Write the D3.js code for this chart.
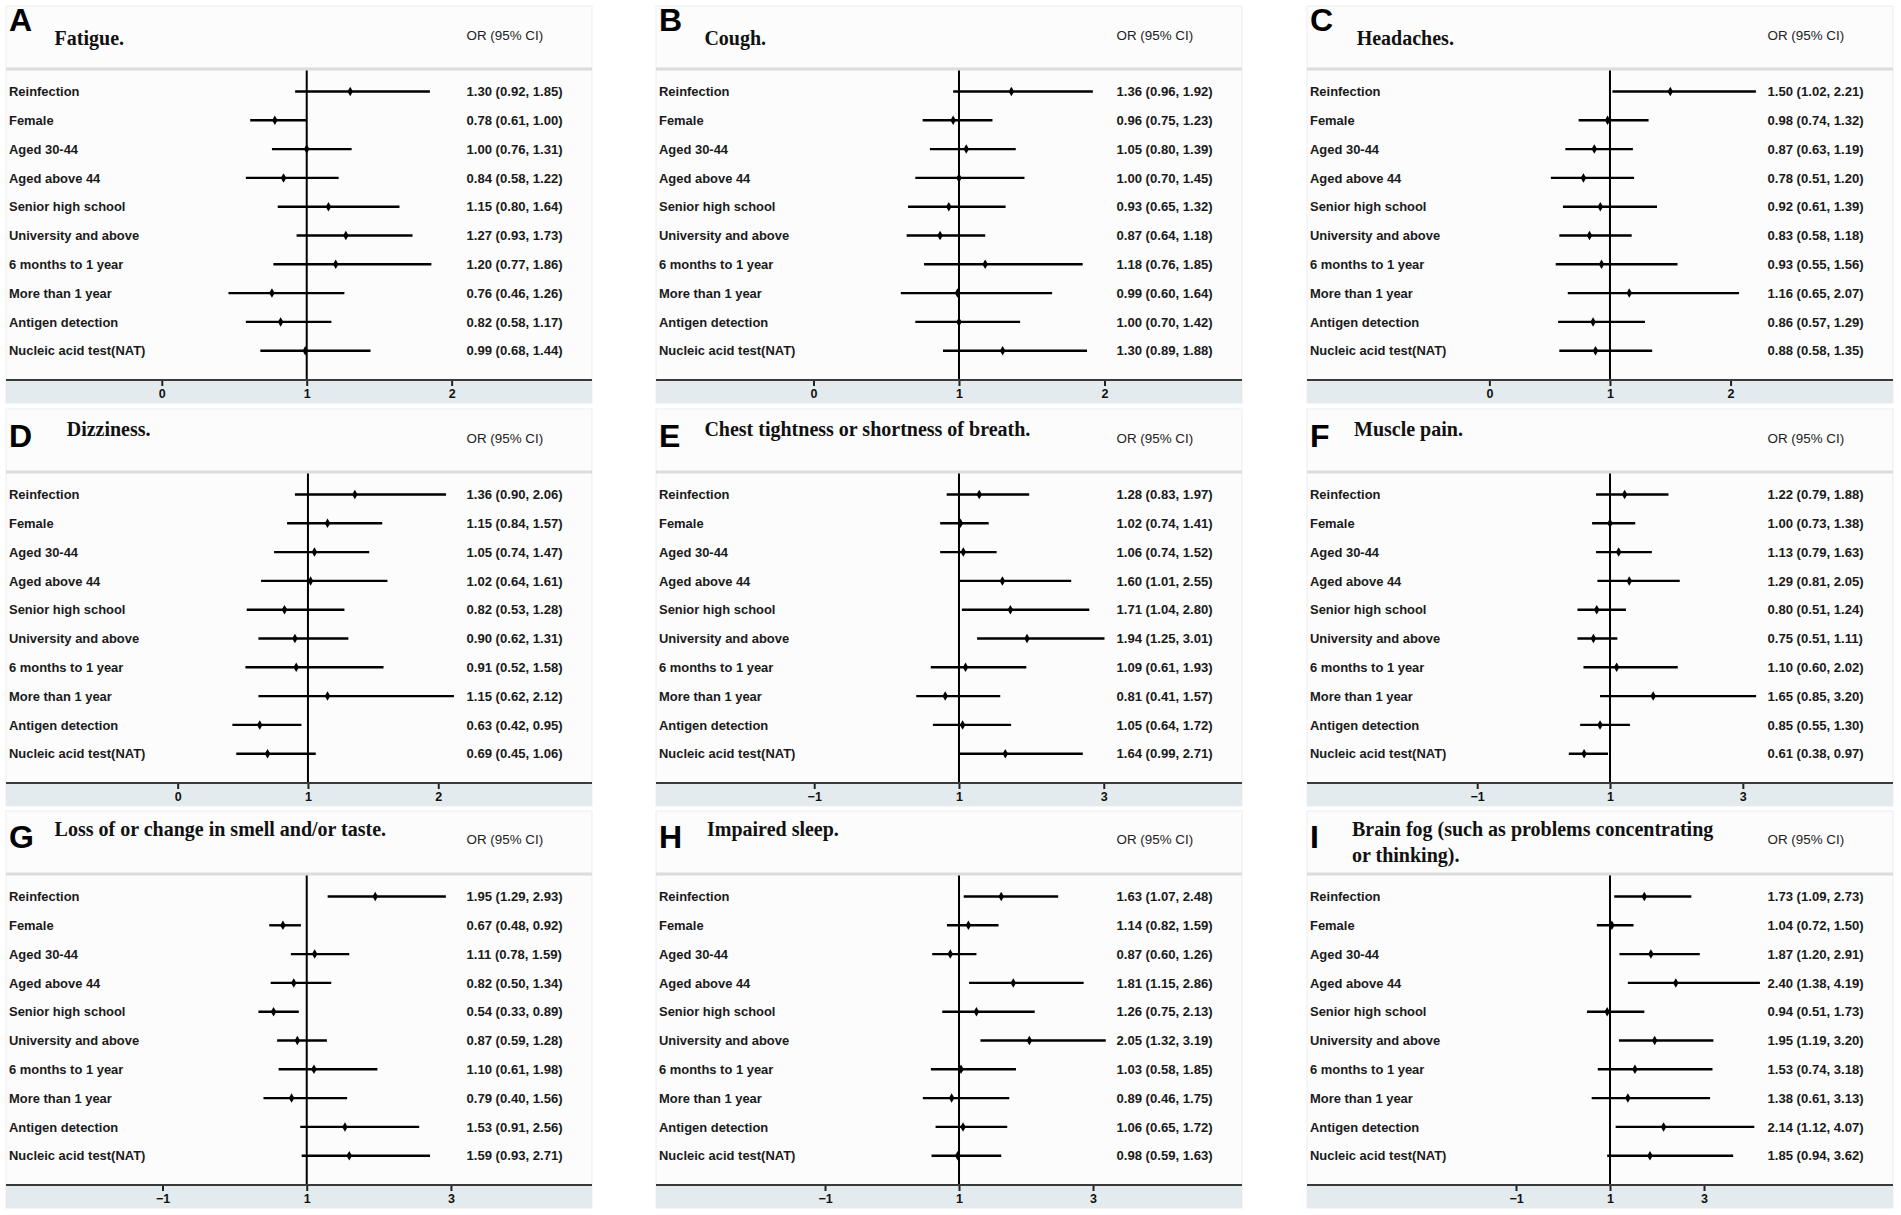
<!DOCTYPE html>
<html><head><meta charset="utf-8">
<script src="https://cdn.jsdelivr.net/npm/d3@7"></script>
<style>body{margin:0;background:#fff}</style>
</head><body><svg id="c" width="1901" height="1215"></svg>
<script>
// ---------------- DATA ----------------
const categories = ["Reinfection","Female","Aged 30-44","Aged above 44","Senior high school",
  "University and above","6 months to 1 year","More than 1 year","Antigen detection","Nucleic acid test(NAT)"];
const panelLetters = ["A","B","C","D","E","F","G","H","I"];
const panelTitles = [["Fatigue."],["Cough."],["Headaches."],["Dizziness."],
  ["Chest tightness or shortness of breath."],["Muscle pain."],
  ["Loss of or change in smell and/or taste."],["Impaired sleep."],
  ["Brain fog (such as problems concentrating","or thinking)."]];
const headerLabel = "OR (95% CI)";

const orFatigue  = [1.30,0.78,1.00,0.84,1.15,1.27,1.20,0.76,0.82,0.99];
const lowFatigue = [0.92,0.61,0.76,0.58,0.80,0.93,0.77,0.46,0.58,0.68];
const highFatigue= [1.85,1.00,1.31,1.22,1.64,1.73,1.86,1.26,1.17,1.44];

const orCough  = [1.36,0.96,1.05,1.00,0.93,0.87,1.18,0.99,1.00,1.30];
const lowCough = [0.96,0.75,0.80,0.70,0.65,0.64,0.76,0.60,0.70,0.89];
const highCough= [1.92,1.23,1.39,1.45,1.32,1.18,1.85,1.64,1.42,1.88];

const orHeadache  = [1.50,0.98,0.87,0.78,0.92,0.83,0.93,1.16,0.86,0.88];
const lowHeadache = [1.02,0.74,0.63,0.51,0.61,0.58,0.55,0.65,0.57,0.58];
const highHeadache= [2.21,1.32,1.19,1.20,1.39,1.18,1.56,2.07,1.29,1.35];

const orDizzy  = [1.36,1.15,1.05,1.02,0.82,0.90,0.91,1.15,0.63,0.69];
const lowDizzy = [0.90,0.84,0.74,0.64,0.53,0.62,0.52,0.62,0.42,0.45];
const highDizzy= [2.06,1.57,1.47,1.61,1.28,1.31,1.58,2.12,0.95,1.06];

const orChest  = [1.28,1.02,1.06,1.60,1.71,1.94,1.09,0.81,1.05,1.64];
const lowChest = [0.83,0.74,0.74,1.01,1.04,1.25,0.61,0.41,0.64,0.99];
const highChest= [1.97,1.41,1.52,2.55,2.80,3.01,1.93,1.57,1.72,2.71];

const orMuscle  = [1.22,1.00,1.13,1.29,0.80,0.75,1.10,1.65,0.85,0.61];
const lowMuscle = [0.79,0.73,0.79,0.81,0.51,0.51,0.60,0.85,0.55,0.38];
const highMuscle= [1.88,1.38,1.63,2.05,1.24,1.11,2.02,3.20,1.30,0.97];

const orSmell  = [1.95,0.67,1.11,0.82,0.54,0.87,1.10,0.79,1.53,1.59];
const lowSmell = [1.29,0.48,0.78,0.50,0.33,0.59,0.61,0.40,0.91,0.93];
const highSmell= [2.93,0.92,1.59,1.34,0.89,1.28,1.98,1.56,2.56,2.71];

const orSleep  = [1.63,1.14,0.87,1.81,1.26,2.05,1.03,0.89,1.06,0.98];
const lowSleep = [1.07,0.82,0.60,1.15,0.75,1.32,0.58,0.46,0.65,0.59];
const highSleep= [2.48,1.59,1.26,2.86,2.13,3.19,1.85,1.75,1.72,1.63];

const orFog  = [1.73,1.04,1.87,2.40,0.94,1.95,1.53,1.38,2.14,1.85];
const lowFog = [1.09,0.72,1.20,1.38,0.51,1.19,0.74,0.61,1.12,0.94];
const highFog= [2.73,1.50,2.91,4.19,1.73,3.20,3.18,3.13,4.07,3.62];

const ticksSmall = [0,1,2];
const ticksWide  = [-1,1,3];
// axis value extents (value space) for each panel
const domainFatigue = [-0.385,2.099], domainCough=[-0.395,2.079], domainHeadache=[-0.683,2.302];
const domainDizzy = [-0.550,2.213], domainChest=[-1.804,3.169], domainMuscle=[-2.057,3.364];
const domainSmell = [-1.784,3.209], domainSleep=[-2.030,3.343], domainFog=[-3.319,4.340];

const seriesOR   = [orFatigue,orCough,orHeadache,orDizzy,orChest,orMuscle,orSmell,orSleep,orFog];
const seriesLow  = [lowFatigue,lowCough,lowHeadache,lowDizzy,lowChest,lowMuscle,lowSmell,lowSleep,lowFog];
const seriesHigh = [highFatigue,highCough,highHeadache,highDizzy,highChest,highMuscle,highSmell,highSleep,highFog];
const panelTicks = [ticksSmall,ticksSmall,ticksSmall,ticksSmall,ticksWide,ticksWide,ticksWide,ticksWide,ticksWide];
const panelDomains = [domainFatigue,domainCough,domainHeadache,domainDizzy,domainChest,domainMuscle,domainSmell,domainSleep,domainFog];

// ---------------- LAYOUT ----------------
const colLeft = [6, 656, 1307];
const rowTop = [6, 409, 811];
const boxW = 586, boxH = 397;
const layout = {
  letterCy: [13, 26, 25],
  titleCy: [32, 20, 18],
  orCy: [29, 29, 28],
  titleX: [48.6, 48.4, 49.7, 60.7, 48.4, 47, 48.6, 51, 45],
  sepY: 63, row1: 85.5, rowStep: 28.8, axisY: 374,
  labelX: 3, valueX: 460.5, plot: [100, 460]
};
const fmt = d3.format(".2f");

const svg = d3.select("#c");
svg.append("rect").attr("width",1901).attr("height",1215).attr("fill","#fff");

panelLetters.forEach((letter, i) => {
  const col = i % 3, row = Math.floor(i / 3);
  const g = svg.append("g").attr("transform", `translate(${colLeft[col]},${rowTop[row]})`);
  const x = d3.scaleLinear().domain(panelDomains[i]).range(layout.plot);
  const y = d3.scalePoint().domain(categories)
    .range([layout.row1, layout.row1 + layout.rowStep * (categories.length - 1)]);

  g.append("rect").attr("width", boxW).attr("height", boxH)
    .attr("fill", "#fcfcfc").attr("stroke", "#ededed").attr("stroke-width", 1);
  // header separator
  g.append("line").attr("x1", 0).attr("x2", boxW).attr("y1", layout.sepY).attr("y2", layout.sepY)
    .attr("stroke", "#dcdcdc").attr("stroke-width", 3);
  // axis band
  g.append("rect").attr("x", 0).attr("y", layout.axisY).attr("width", boxW)
    .attr("height", boxH - layout.axisY).attr("fill", "#e3ebee");

  // panel letter
  g.append("text").attr("x", layout.labelX).attr("y", layout.letterCy[row] + 11.5)
    .attr("font-family", "Liberation Sans, Arial, sans-serif").attr("font-weight", "bold")
    .attr("font-size", 32).attr("fill", "#000").text(letter);
  // title
  const tt = g.append("text").attr("font-family", "Liberation Serif, Times New Roman, serif")
    .attr("font-weight", "bold").attr("font-size", 20).attr("fill", "#111");
  panelTitles[i].forEach((line, k) => {
    tt.append("tspan").attr("x", layout.titleX[i]).attr("y", layout.titleCy[row] + 7 + k * 26).text(line);
  });
  // header
  g.append("text").attr("x", layout.valueX).attr("y", layout.orCy[row] + 4.6)
    .attr("font-family", "Liberation Sans, Arial, sans-serif").attr("font-size", 13.4)
    .attr("fill", "#222").text(headerLabel);

  // reference line at OR = 1
  g.append("line").attr("x1", x(1)).attr("x2", x(1))
    .attr("y1", layout.sepY + 1.5).attr("y2", layout.axisY)
    .attr("stroke", "#000").attr("stroke-width", 2);

  // x axis
  const ax = g.append("g").attr("transform", `translate(0,${layout.axisY})`)
    .call(d3.axisBottom(x).tickValues(panelTicks[i]).tickSize(6).tickPadding(3).tickFormat(d3.format("d")));
  ax.select(".domain").remove();
  ax.selectAll(".tick line").attr("stroke", "#222").attr("stroke-width", 2);
  ax.selectAll(".tick text").attr("font-family", "Liberation Sans, Arial, sans-serif")
    .attr("font-weight", "bold").attr("font-size", 12.5).attr("fill", "#111");
  g.append("line").attr("x1", 0).attr("x2", boxW).attr("y1", layout.axisY).attr("y2", layout.axisY)
    .attr("stroke", "#3a3a3a").attr("stroke-width", 2.2);

  const rows = categories.map((c, k) => ({c, or: seriesOR[i][k], lo: seriesLow[i][k], hi: seriesHigh[i][k]}));
  // CI lines
  g.selectAll(".ci").data(rows).join("line").attr("class", "ci")
    .attr("x1", d => x(d.lo)).attr("x2", d => x(d.hi))
    .attr("y1", d => y(d.c)).attr("y2", d => y(d.c))
    .attr("stroke", "#000").attr("stroke-width", 2.4);
  // point estimates
  g.selectAll(".pt").data(rows).join("path").attr("class", "pt")
    .attr("d", d3.symbol(d3.symbolDiamond, 26))
    .attr("transform", d => `translate(${x(d.or)},${y(d.c)})`).attr("fill", "#000");
  // labels
  g.selectAll(".lab").data(rows).join("text").attr("class", "lab")
    .attr("x", layout.labelX).attr("y", d => y(d.c) + 4.6)
    .attr("font-family", "Liberation Sans, Arial, sans-serif").attr("font-weight", "bold")
    .attr("font-size", 12.95).attr("fill", "#1a1a1a").text(d => d.c);
  g.selectAll(".val").data(rows).join("text").attr("class", "val")
    .attr("x", layout.valueX).attr("y", d => y(d.c) + 4.6)
    .attr("font-family", "Liberation Sans, Arial, sans-serif").attr("font-weight", "bold")
    .attr("font-size", 13.1).attr("fill", "#1a1a1a")
    .text(d => `${fmt(d.or)} (${fmt(d.lo)}, ${fmt(d.hi)})`);
});
</script></body></html>
